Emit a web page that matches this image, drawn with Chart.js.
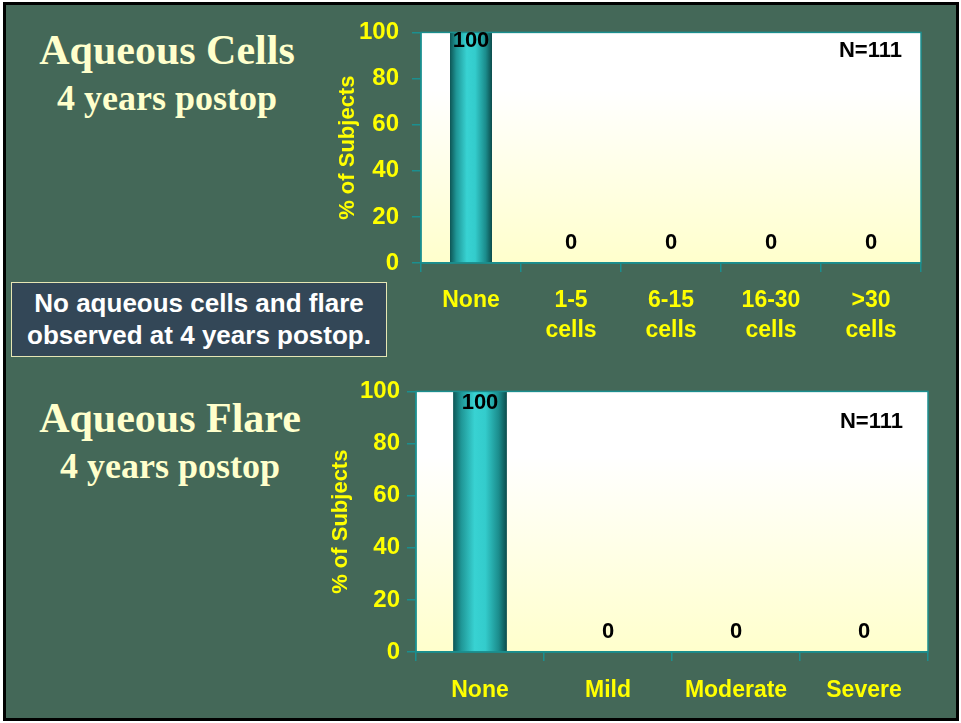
<!DOCTYPE html>
<html>
<head>
<meta charset="utf-8">
<script src="https://cdn.jsdelivr.net/npm/chart.js@4.4.1/dist/chart.umd.min.js"></script>
<style>
  body { margin: 0; background: #ffffff; }
  #page {
    position: absolute; left: 3px; top: 2px; width: 956px; height: 719px;
    box-sizing: border-box; border: 3px solid #000; background: #446858;
    overflow: hidden;
  }
  .title {
    position: absolute; width: 330px; text-align: center; color: #ffffcc;
    font-family: "Liberation Serif", "Times New Roman", serif; font-weight: bold;
    white-space: nowrap;
  }
  .big { font-size: 42px; line-height: 42px; }
  .small { font-size: 36px; line-height: 36px; }
  #note {
    position: absolute; left: 5px; top: 277px; width: 376px; height: 75px;
    box-sizing: border-box; border: 1px solid #e6e6b4; background: #334757;
    color: #fff; font-family: "Liberation Sans", Arial, sans-serif; font-weight: bold;
    font-size: 26px; line-height: 32px; text-align: center; padding-top: 4px;
    white-space: nowrap;
  }
  canvas { position: absolute; }
</style>
</head>
<body>
<div id="page">
  <div class="title big" style="left:-4px; top:24px;">Aqueous Cells</div>
  <div class="title small" style="left:-4px; top:75px;">4 years postop</div>
  <div class="title big" style="left:-1px; top:392px;">Aqueous Flare</div>
  <div class="title small" style="left:-1px; top:443px;">4 years postop</div>
  <div id="note">No aqueous cells and flare<br>observed at 4 years postop.</div>
  <canvas id="cells" width="620" height="340" style="left:314px; top:0px;"></canvas>
  <canvas id="flare" width="620" height="340" style="left:314px; top:365px;"></canvas>
</div>
<script>
// data
const cellLabels = ['None', ['1-5', 'cells'], ['6-15', 'cells'], ['16-30', 'cells'], ['>30', 'cells']];
const cellValues = [100, 0, 0, 0, 0];

const flareLabels = ['None', 'Mild', 'Moderate', 'Severe'];
const flareValues = [100, 0, 0, 0];

const yTicks = [0, 20, 40, 60, 80, 100];
const sampleNote = 'N=111';

const yellow = '#ffff00';
const teal = '#1b8f8f';
const sans = "'Liberation Sans', Arial, sans-serif";

// cylinder look for the bars
function barFill(ctx) {
  const chart = ctx.chart;
  const x = chart.scales.x;
  if (!x || !chart.chartArea) return '#33cccc';
  const n = chart.data.labels.length;
  const cx = x.getPixelForValue(ctx.dataIndex);
  const w = x.width / n * 0.42;
  const g = chart.ctx.createLinearGradient(cx - w / 2, 0, cx + w / 2, 0);
  g.addColorStop(0, '#0e5656');
  g.addColorStop(0.15, '#1f9696');
  g.addColorStop(0.4, '#38d2d2');
  g.addColorStop(0.6, '#33cccc');
  g.addColorStop(0.85, '#1b8c8c');
  g.addColorStop(1, '#0c4c4c');
  return g;
}

const plotBg = {
  id: 'plotBg',
  beforeDraw(chart) {
    const a = chart.chartArea;
    const c = chart.ctx;
    const g = c.createLinearGradient(0, a.top, 0, a.bottom);
    g.addColorStop(0, '#ffffff');
    g.addColorStop(0.25, '#ffffff');
    g.addColorStop(1, '#ffffcc');
    c.save();
    c.fillStyle = g;
    c.fillRect(a.left, a.top, a.right - a.left, a.bottom - a.top);
    c.restore();
  }
};

const extras = {
  id: 'extras',
  afterDatasetsDraw(chart, args, opts) {
    const a = chart.chartArea;
    const c = chart.ctx;
    c.save();
    c.strokeStyle = teal;
    c.lineWidth = 1.5;
    c.strokeRect(a.left, a.top, a.right - a.left, a.bottom - a.top);

    c.fillStyle = '#000';
    c.font = 'bold 22px ' + sans;
    c.textAlign = 'center';
    c.textBaseline = 'middle';
    const meta = chart.getDatasetMeta(0);
    const vals = chart.data.datasets[0].data;
    meta.data.forEach(function (bar, i) {
      let y = bar.y - 20;
      if (y < a.top + opts.topInset) y = a.top + opts.topInset;
      c.fillText(vals[i], bar.x, y);
    });

    c.textAlign = 'right';
    c.fillText(sampleNote, a.right - opts.noteRight, a.top + opts.noteTop);
    c.restore();
  }
};

function makeChart(id, labels, values, o) {
  return new Chart(document.getElementById(id), {
    type: 'bar',
    data: {
      labels: labels,
      datasets: [{
        data: values,
        backgroundColor: barFill,
        borderWidth: 0,
        categoryPercentage: 1,
        barPercentage: 0.42
      }]
    },
    options: {
      responsive: false,
      animation: false,
      layout: { padding: { top: o.top, right: o.right, left: 0, bottom: 0 } },
      plugins: {
        legend: { display: false },
        tooltip: { enabled: false },
        extras: o.extras
      },
      scales: {
        x: {
          grid: { display: true, drawOnChartArea: false, offset: true, color: teal, tickLength: 9, lineWidth: 1.5 },
          border: { color: teal, width: 1.5 },
          ticks: { color: yellow, font: { family: sans, size: 23, weight: 'bold', lineHeight: 1.3 }, padding: o.xPad, maxRotation: 0, autoSkip: false },
          afterFit(s) { s.height = o.xHeight; }
        },
        y: {
          min: 0, max: 100,
          afterBuildTicks(s) { s.ticks = yTicks.map(function (v) { return { value: v }; }); },
          grid: { display: true, drawOnChartArea: false, color: teal, tickLength: 9, lineWidth: 1.5 },
          border: { color: teal, width: 1.5 },
          ticks: { color: yellow, font: { family: sans, size: 24, weight: 'bold' }, padding: o.yPad },
          title: { display: true, text: '% of Subjects', color: yellow, font: { family: sans, size: 22, weight: 'bold' }, padding: { top: o.titlePad, bottom: 0 } },
          afterFit(s) { s.width = o.yWidth; }
        }
      }
    },
    plugins: [plotBg, extras]
  });
}

makeChart('cells', cellLabels, cellValues, {
  top: 19, right: 19, yWidth: 101, xHeight: 82, xPad: 14, yPad: 13, titlePad: 15,
  extras: { topInset: 9, noteRight: 19, noteTop: 19 }
});

makeChart('flare', flareLabels, flareValues, {
  top: 20, right: 12, yWidth: 96, xHeight: 58, xPad: 15, yPad: 7, titlePad: 8,
  extras: { topInset: 12, noteRight: 25, noteTop: 31 }
});
</script>
</body>
</html>
